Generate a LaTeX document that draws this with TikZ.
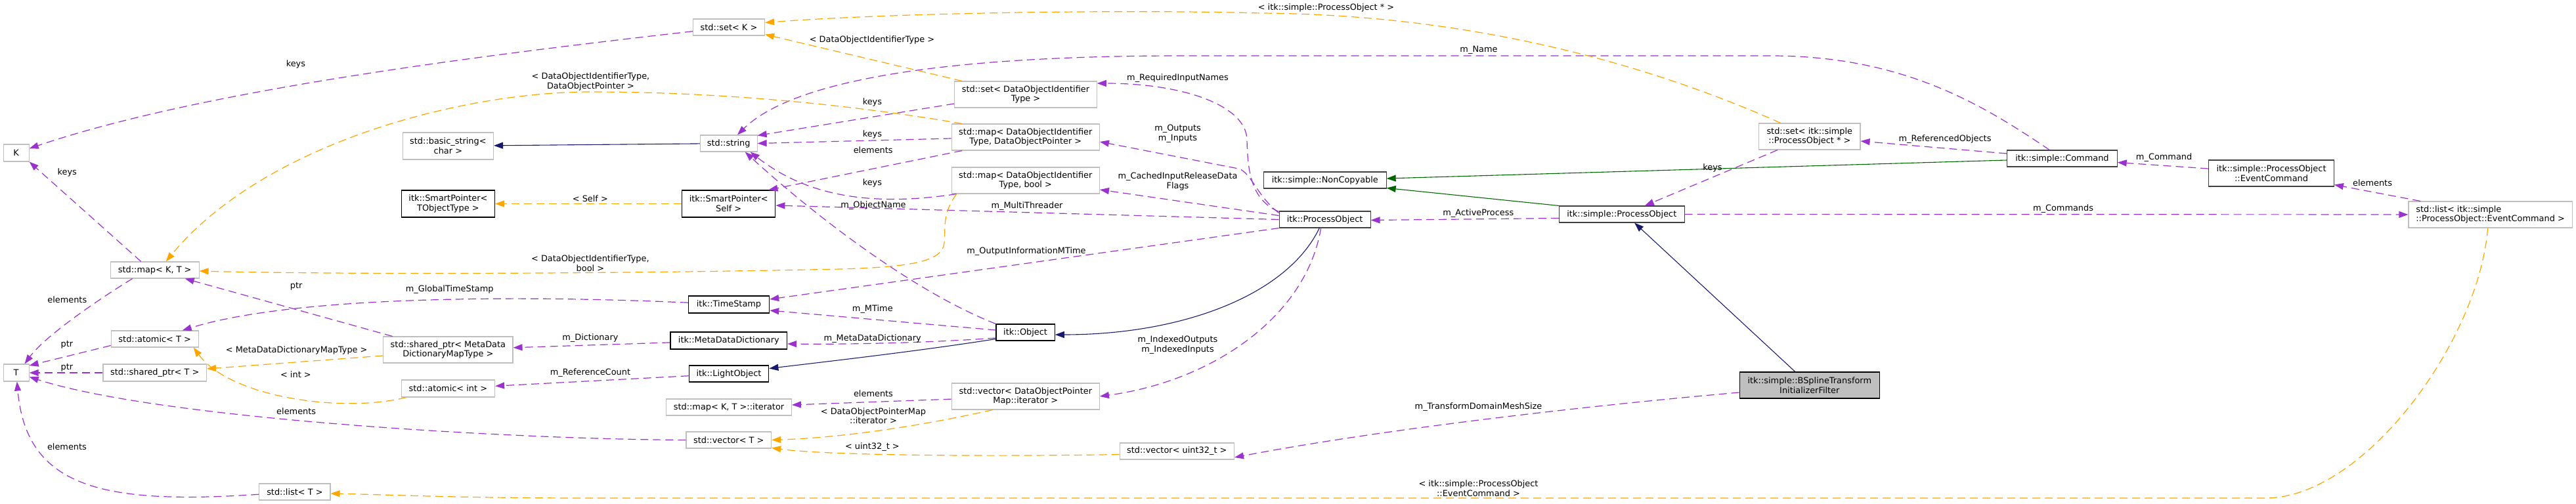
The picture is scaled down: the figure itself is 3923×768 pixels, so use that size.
\documentclass[tikz,border=0pt]{standalone}
\usepackage{fontspec}
\setmainfont{DejaVu Sans}
\usetikzlibrary{arrows.meta}
\definecolor{pur}{HTML}{9A32CD}
\definecolor{org}{HTML}{FFA500}
\definecolor{mblue}{HTML}{191970}
\definecolor{dgreen}{HTML}{006400}
\definecolor{gry}{HTML}{BFBFBF}
\definecolor{dgry}{HTML}{404040}
\tikzset{
  every node/.style={font=\fontsize{12.9pt}{14.7pt}\selectfont, inner sep=0pt, text=black},
  nbase/.style={draw, fill=white, line width=1.1pt, minimum height=25pt, align=center},
  gbox/.style={nbase, draw=gry},
  bbox/.style={nbase, draw=black},
  dbox/.style={nbase, draw=dgry},
  tipx/.style={-{Triangle[length=14pt,width=10pt]}},
  epur/.style={draw=pur, line width=1.2pt, dash pattern=on 12pt off 7pt, tipx},
  eorg/.style={draw=org, line width=1.2pt, dash pattern=on 12pt off 7pt, tipx},
  eblu/.style={draw=mblue, line width=1.1pt, tipx},
  egrn/.style={draw=dgreen, line width=1.1pt, tipx},
  elabel/.style={align=center}
}
\begin{document}
\begin{tikzpicture}[x=1pt,y=-1pt]
\useasboundingbox (0,0) rectangle (3923,768);
% ---------- nodes ----------
\node[gbox, minimum width=39.1pt, minimum height=26pt] (K) at (24.6,233) {K};
\node[gbox, minimum width=134.7pt] (mapKT) at (235.7,411.5) {std::map< K, T >};
\node[gbox, minimum width=39.1pt, minimum height=26pt] (T) at (24.6,568) {T};
\node[gbox, minimum width=133pt] (atomicT) at (235.7,516.5) {std::atomic< T >};
\node[gbox, minimum width=157.4pt, minimum height=26pt] (sharedT) at (235.7,568) {std::shared\_ptr< T >};
\node[gbox, minimum width=108.2pt] (listT) at (448.9,749.5) {std::list< T >};
\node[gbox, minimum width=138.2pt, minimum height=41pt] (basicstr) at (682.4,222.5) {std::basic\_string<\\char >};
\node[bbox, minimum width=142.4pt, minimum height=41pt] (spTObj) at (682.4,310.5) {itk::SmartPointer<\\TObjectType >};
\node[gbox, minimum width=109pt] (setK) at (1110,41.5) {std::set< K >};
\node[gbox, minimum width=86.7pt] (string) at (1109.7,218.5) {std::string};
\node[bbox, minimum width=142.3pt, minimum height=41pt] (spSelf) at (1109.7,310.5) {itk::SmartPointer<\\Self >};
\node[gbox, minimum width=197.2pt, minimum height=40pt] (sharedMDD) at (682.4,533) {std::shared\_ptr< MetaData\\DictionaryMapType >};
\node[gbox, minimum width=142.4pt, minimum height=26pt] (atomicInt) at (682.4,592) {std::atomic< int >};
\node[bbox, minimum width=123.3pt, minimum height=26pt] (timestamp) at (1110,464) {itk::TimeStamp};
\node[bbox, minimum width=177.6pt, minimum height=26pt] (mdd) at (1109.8,519) {itk::MetaDataDictionary};
\node[bbox, minimum width=121.7pt] (light) at (1110,569.5) {itk::LightObject};
\node[gbox, minimum width=190.7pt] (iter) at (1110,620.5) {std::map< K, T >::iterator};
\node[gbox, minimum width=129.7pt] (vecT) at (1109.8,670.5) {std::vector< T >};
\node[gbox, minimum width=216.4pt, minimum height=40pt] (setDOIT) at (1562,144) {std::set< DataObjectIdentifier\\Type >};
\node[gbox, minimum width=225.2pt, minimum height=40pt] (mapDOP) at (1561.8,209) {std::map< DataObjectIdentifier\\Type, DataObjectPointer >};
\node[gbox, minimum width=225.2pt, minimum height=40pt] (mapBool) at (1561.8,275) {std::map< DataObjectIdentifier\\Type, bool >};
\node[bbox, minimum width=89.2pt] (object) at (1561.6,506.5) {itk::Object};
\node[gbox, minimum width=225.2pt, minimum height=40pt] (vecDOPM) at (1561.8,604) {std::vector< DataObjectPointer\\Map::iterator >};
\node[gbox, minimum width=174.3pt] (vecU32) at (1792.3,687.5) {std::vector< uint32\_t >};
\node[dbox, minimum width=138.9pt] (itkPO) at (2017.6,334.5) {itk::ProcessObject};
\node[dbox, minimum width=186.6pt] (noncopy) at (2017.8,274.5) {itk::simple::NonCopyable};
\node[dbox, minimum width=190.6pt] (simplePO) at (2469.8,326.5) {itk::simple::ProcessObject};
\node[gbox, minimum width=154.4pt, minimum height=40pt] (setSPO) at (2755.8,208) {std::set< itk::simple\\::ProcessObject * >};
\node[dbox, minimum width=167.4pt] (command) at (3140.4,241.5) {itk::simple::Command};
\node[bbox, fill=gry, minimum width=213.4pt, minimum height=40pt] (bspline) at (2755.8,587) {itk::simple::BSplineTransform\\InitializerFilter};
\node[dbox, minimum width=190.6pt, minimum height=40pt] (eventcmd) at (3459,264) {itk::simple::ProcessObject\\::EventCommand};
\node[gbox, minimum width=249.4pt, minimum height=40pt, align=left] (listEC) at (3792.6,327) {std::list< itk::simple\\::ProcessObject::EventCommand >};
% ---------- purple edges ----------
\draw[epur] (setK) .. controls (700,88) and (300,140) .. (K);
\draw[epur] ([xshift=-21pt]mapKT.north) -- (K.south east);
\draw[epur] ([xshift=-34pt]mapKT.south) .. controls (160,450) and (70,510) .. ([xshift=13pt]T.north);
\draw[epur] ([yshift=-10pt]atomicT.west) -- ([yshift=11pt]T.east);
\draw[epur] (sharedT) -- (T);
\draw[epur] (vecT) .. controls (800,670) and (250,640) .. (T);
\draw[epur] (listT) .. controls (150,770) and (40,740) .. (T);
\draw[epur] ([xshift=-84.7pt]sharedMDD.north) -- ([xshift=46pt]mapKT.south);
\draw[epur] (timestamp) .. controls (800,450) and (450,450) .. (atomicT);
\draw[epur] (command) .. controls (3020,160) and (2900,86) .. (2700,85) -- (1800,85) .. controls (1400,85) and (1200,130) .. (string);
\draw[epur] ([yshift=-14pt]setDOIT.west) -- ([yshift=12pt]string.east);
\draw[epur] ([yshift=-2pt]mapDOP.west) -- (string.east);
\draw[epur] ([xshift=-96.6pt]mapDOP.south) -- ([xshift=60.7pt]spSelf.north);
\draw[epur] ([xshift=8pt]mapBool.south west) .. controls (1330,315) and (1230,300) .. ([xshift=33pt]string.south);
\draw[epur] (object.north west) .. controls (1380,440) and (1220,310) .. ([xshift=25pt]string.south);
\draw[epur] (itkPO.west) -- ([yshift=-2.5pt]spSelf.east);
\draw[epur] (itkPO.south west) -- ([yshift=8pt]timestamp.east);
\draw[epur] ([yshift=3.5pt]object.west) -- ([yshift=-9pt]timestamp.east);
\draw[epur] ([yshift=-8.5pt]object.west) .. controls (1420,522) and (1300,525) .. ([yshift=-5pt]mdd.east);
\draw[epur] (mdd) -- (sharedMDD);
\draw[epur] (light) -- (atomicInt);
\draw[epur] (vecDOPM) -- (iter);
\draw[epur] ([yshift=12pt]itkPO.west) .. controls (1905,305) and (1900,260) .. (1899,213) .. controls (1898,160) and (1800,127) .. ([yshift=17pt]setDOIT.east);
\draw[epur] ([yshift=10pt]itkPO.west) .. controls (1915,300) and (1905,262) .. (1886,257) -- ([yshift=-7pt]mapDOP.east);
\draw[epur] ([yshift=6pt]itkPO.west) -- ([yshift=-14pt]mapBool.east);
\draw[epur] ([xshift=-6pt]itkPO.south) .. controls (1990,480) and (1850,580) .. (vecDOPM.east);
\draw[epur] ([yshift=-11pt]bspline.west) .. controls (2400,620) and (2100,655) .. ([yshift=-9.5pt]vecU32.east);
\draw[epur] ([yshift=-6pt]simplePO.west) -- ([yshift=-1pt]itkPO.east);
\draw[epur] ([xshift=-48.8pt]setSPO.south) -- ([xshift=35pt]simplePO.north);
\draw[epur] ([yshift=7.5pt]command.west) -- ([yshift=-7pt]setSPO.east);
\draw[epur] ([yshift=7pt]eventcmd.west) -- ([yshift=-6pt]command.east);
\draw[epur] ([xshift=-106.6pt]listEC.north) -- ([yshift=-17.5pt]eventcmd.east);
\draw[epur] (simplePO) -- (listEC);
% ---------- orange edges ----------
\draw[eorg] (spSelf) -- (spTObj);
\draw[eorg] ([xshift=8pt]atomicInt.south west) .. controls (520,630) and (350,605) .. ([xshift=-8pt]atomicT.south east);
\draw[eorg] ([yshift=-9pt]sharedMDD.west) -- ([yshift=6pt]sharedT.east);
\draw[eorg] ([xshift=-50pt]vecDOPM.south) .. controls (1420,645) and (1300,666) .. (vecT.east);
\draw[eorg] ([yshift=-5pt]vecU32.west) .. controls (1500,696) and (1260,694) .. ([yshift=-12pt]vecT.east);
\draw[eorg] ([xshift=-4pt]listEC.south) .. controls (3775,520) and (3600,759) .. (3450,759) -- (900,759) .. controls (700,759) and (600,754) .. ([yshift=-2.5pt]listT.east);
\draw[eorg] ([xshift=-44pt]setSPO.north) .. controls (2470,80) and (2200,22) .. (1920,20) .. controls (1700,14) and (1350,20) .. ([yshift=7pt]setK.east);
\draw[eorg] ([xshift=-96.8pt]setDOIT.north) -- ([yshift=-11pt]setK.east);
\draw[eorg] ([xshift=-96.6pt]mapDOP.north) .. controls (1300,160) and (1100,140) .. (900,140) .. controls (700,140) and (400,220) .. ([xshift=17pt]mapKT.north);
\draw[eorg] ([xshift=-105pt]mapBool.south) .. controls (1435,325) and (1440,345) .. (1438,370) .. controls (1436,400) and (1380,407) .. (1280,410) .. controls (900,418) and (500,418) .. ([yshift=-1.5pt]mapKT.east);
% ---------- inheritance ----------
\draw[eblu] (string) -- (basicstr);
\draw[eblu] ([yshift=-10pt]object.west) .. controls (1400,535) and (1250,552) .. ([yshift=8pt]light.east);
\draw[eblu] ([xshift=-8.3pt]itkPO.south) .. controls (1960,450) and (1800,510) .. ([yshift=-3.5pt]object.east);
\draw[eblu] ([xshift=-22pt]bspline.north) -- ([xshift=19.4pt]simplePO.south);
\draw[egrn] (simplePO.north west) -- ([yshift=-12pt]noncopy.east);
\draw[egrn] ([yshift=-2.5pt]command.west) -- ([yshift=2.5pt]noncopy.east);
% ---------- labels ----------
\node[elabel] (l1) at (450.4,98.3) {keys};
\node[elabel] (l2) at (102.3,263.3) {keys};
\node[elabel] (l3) at (102.3,456.7) {elements};
\node[elabel] (l4) at (102,525) {ptr};
\node[elabel] (l5) at (102,560) {ptr};
\node[elabel] (l6) at (102,680.7) {elements};
\node[elabel] (l7) at (451.2,436.7) {ptr};
\node[elabel] (l8) at (684.7,440.7) {m\_GlobalTimeStamp};
\node[elabel] (l9) at (451.7,534.3) {< MetaDataDictionaryMapType >};
\node[elabel] (l10) at (450.4,570.7) {< int >};
\node[elabel] (l11) at (451.2,626.7) {elements};
\node[elabel] (l12) at (899.5,124.2) {< DataObjectIdentifierType,\\DataObjectPointer >};
\node[elabel] (l13) at (898.9,302.3) {< Self >};
\node[elabel] (l14) at (898.9,401.3) {< DataObjectIdentifierType,\\bool >};
\node[elabel] (l15) at (898.9,515) {m\_Dictionary};
\node[elabel] (l16) at (898.9,567.7) {m\_ReferenceCount};
\node[elabel] (l17) at (1328,60.7) {< DataObjectIdentifierType >};
\node[elabel] (l18) at (1328.4,155.7) {keys};
\node[elabel] (l19) at (1328.4,204.7) {keys};
\node[elabel] (l20) at (1329.7,228.7) {elements};
\node[elabel] (l21) at (1328.4,279.3) {keys};
\node[elabel] (l22) at (1330,312.7) {m\_ObjectName};
\node[elabel] (l23) at (1564,314.3) {m\_MultiThreader};
\node[elabel] (l24) at (1563,382.7) {m\_OutputInformationMTime};
\node[elabel] (l25) at (1328.8,470.7) {m\_MTime};
\node[elabel] (l26) at (1328.7,516) {m\_MetaDataDictionary};
\node[elabel] (l27) at (1330,600) {elements};
\node[elabel] (l28) at (1330,633.8) {< DataObjectPointerMap\\::iterator >};
\node[elabel] (l29) at (1328.4,680.7) {< uint32\_t >};
\node[elabel] (l30) at (1793.5,119.3) {m\_RequiredInputNames};
\node[elabel] (l31) at (1793.5,203.4) {m\_Outputs\\m\_Inputs};
\node[elabel] (l32) at (1793.5,276.4) {m\_CachedInputReleaseData\\Flags};
\node[elabel] (l33) at (1793.5,525.7) {m\_IndexedOutputs\\m\_IndexedInputs};
\node[elabel] (l34) at (2251.5,620) {m\_TransformDomainMeshSize};
\node[elabel] (l35) at (2251.5,743.9) {< itk::simple::ProcessObject\\::EventCommand >};
\node[elabel] (l36) at (2252,76.7) {m\_Name};
\node[elabel] (l37) at (2251.3,325) {m\_ActiveProcess};
\node[elabel] (l38) at (2608,256) {keys};
\node[elabel] (l39) at (2962,211.7) {m\_ReferencedObjects};
\node[elabel] (l40) at (3142,318.3) {m\_Commands};
\node[elabel] (l41) at (3295.6,240) {m\_Command};
\node[elabel] (l42) at (3613,278.3) {elements};
\node[elabel] (l43) at (2019.5,11.7) {< itk::simple::ProcessObject * >};
\end{tikzpicture}
\end{document}
